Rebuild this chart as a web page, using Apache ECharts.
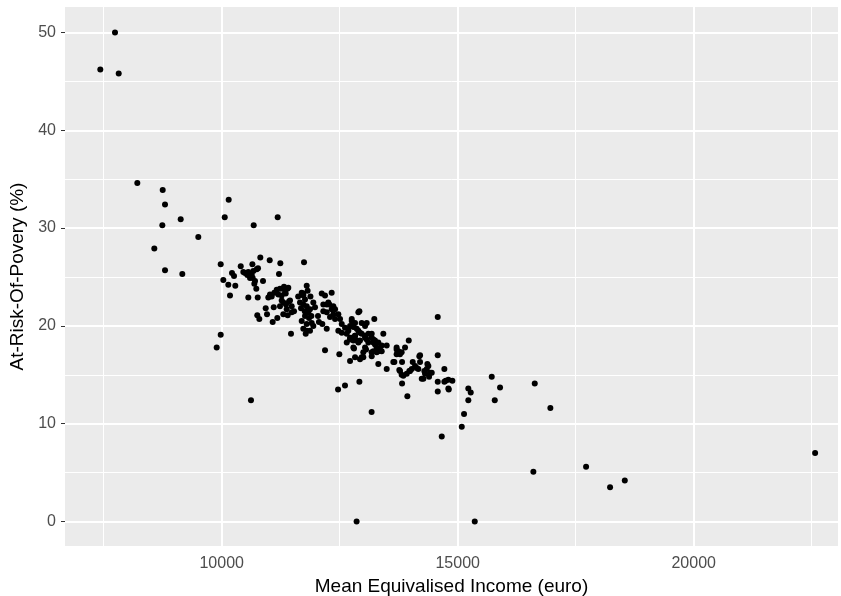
<!DOCTYPE html>
<html>
<head>
<meta charset="utf-8">
<script src="https://cdn.jsdelivr.net/npm/echarts@6/dist/echarts.min.js"></script>
<style>
  html, body { margin: 0; padding: 0; background: #ffffff; }
  #chart { width: 841px; height: 596px; }
</style>
</head>
<body>
<div id="chart"></div>
<script>
// Mean equivalised income (euro) per region
const income = [
  7739, 7428, 7818, 8212, 8750, 10148, 8799, 9131, 10064, 11186,
  8742, 10678, 9504, 8572, 8799, 9165, 9979, 9894, 10620,
  10818, 11017, 11744, 9979, 11242, 10403, 10650, 10769, 10670, 10564,
  10494, 10458, 10543, 10600, 10636, 10218, 10261, 11214, 10034, 10657,
  10706, 10875, 10140, 10288, 10733, 10691, 10176, 10564, 10763, 10742,
  11023, 11059, 11115, 11165, 11235, 11320, 11390, 11356, 11271, 11199,
  10987, 11271, 11305, 11362, 11411, 11341, 11305, 11447, 11483, 11377,
  11235, 11426, 10932, 11102, 10960, 10754, 10797, 11178, 11080, 11398,
  11483, 11532, 11729, 11801, 11468, 11780, 11305,
  11695, 11729, 11765, 11659, 11729, 11801, 11871, 11941, 11977, 11835,
  11765, 11695, 11801, 11907, 11941, 11871, 11801, 11729, 11680, 11760,
  11850, 11900, 11620, 11880, 11820,
  12119, 12330, 12189, 12153, 12225, 12280, 12153, 12225, 12330, 12365,
  12471, 12295, 12401, 12507, 12543, 12613, 12719, 12755, 12825, 12683,
  12471, 12543, 12649, 12719, 12789, 12649, 12825, 12895, 12755, 12132,
  12225, 12189, 12492, 12803, 12259, 12365, 12401, 12040, 12060,
  12917, 13233, 13072, 12755, 12789, 12861, 12895, 12930, 12966, 12825,
  12755, 12719, 12861, 12895, 13037, 13072, 13107, 13213, 13248, 13283,
  13354, 13390, 13318, 13213, 13037, 12789, 13000, 12930, 12825, 13178,
  13283, 13424, 12719, 13318, 13496, 12966, 13037, 13107, 13178, 13248,
  13496, 13037, 13178, 13213, 13390, 13318, 13000, 12966, 12930, 13058,
  13176,
  13963, 13706, 13741, 13812, 13706, 13777, 13884, 13658, 13821, 13763,
  13812, 13821, 13920, 13975, 14026, 14047, 14096, 14132, 14166, 14187,
  14238, 14293, 14357, 14414, 14393, 14577, 14717, 14577, 14577, 14746,
  14802, 14887, 14802, 13933, 13176, 14662, 15225, 15276, 15225, 15134,
  15086, 15721, 15897, 15785, 16632, 16963, 16603, 17720, 18228, 18540,
  22572, 15361, 12858, 14577, 12917, 12465, 12612, 13636, 13706, 13778,
  13848, 13990, 14308, 14344, 14273, 14202, 14378, 14450, 14717, 14202,
  14810
];

// At-risk-of-poverty rate (%) for the same regions
const atRisk = [
  50.0, 46.2, 45.8, 34.6, 33.9, 32.9, 32.4, 30.9, 31.1, 31.1,
  30.3, 30.3, 29.1, 27.9, 25.7, 25.3, 19.1, 17.8, 12.4,
  27.0, 26.7, 26.5, 26.3, 26.4, 26.1, 26.3, 25.9, 25.6, 25.5,
  25.4, 25.5, 25.2, 24.9, 25.2, 25.4, 25.1, 25.3, 24.7, 24.9,
  24.6, 24.6, 24.2, 24.1, 23.8, 24.3, 23.1, 22.9, 22.9, 25.8,
  23.2, 23.0, 23.4, 23.7, 23.8, 24.0, 23.8, 23.3, 23.1, 23.2,
  22.9, 22.6, 22.4, 22.2, 23.9, 23.4, 23.8, 22.6, 22.0, 21.7,
  22.0, 22.5, 21.8, 21.9, 21.2, 21.1, 20.7, 20.8, 20.4, 21.1,
  21.4, 21.5, 23.3, 24.1, 19.2, 19.2, 21.2,
  23.4, 23.1, 22.7, 22.4, 22.2, 22.0, 21.7, 22.4, 21.9, 21.4,
  21.0, 20.5, 20.2, 20.3, 20.0, 19.5, 19.5, 19.7, 21.8, 21.5,
  20.8, 21.0, 23.0, 23.0, 23.6,
  23.3, 23.4, 23.1, 22.2, 22.2, 22.2, 21.5, 21.4, 21.7, 21.2,
  21.2, 20.9, 20.7, 20.7, 20.2, 19.8, 20.0, 20.5, 20.3, 19.5,
  19.5, 19.3, 19.2, 18.8, 18.5, 18.3, 19.0, 21.4, 20.0, 20.2,
  19.7, 17.5, 17.1, 17.7, 22.4, 22.0, 21.7, 21.0, 20.4,
  21.5, 20.7, 20.3, 20.7, 19.9, 19.7, 19.5, 19.3, 19.2, 19.0,
  18.8, 18.6, 18.5, 18.3, 18.8, 18.6, 18.3, 18.6, 18.1, 17.8,
  17.6, 18.0, 18.3, 17.4, 17.8, 17.8, 16.8, 16.6, 16.8, 16.9,
  17.3, 19.2, 16.4, 16.1, 15.6, 20.3, 20.0, 19.2, 18.8, 18.5,
  18.0, 19.0, 19.2, 18.3, 17.4, 17.4, 17.3, 16.8, 18.5, 17.6,
  17.3,
  18.5, 17.8, 17.4, 17.3, 17.1, 17.1, 17.8, 16.3, 16.3, 15.5,
  15.0, 14.1, 15.1, 15.4, 15.6, 16.3, 15.9, 15.7, 15.6, 16.9,
  14.6, 15.4, 16.1, 15.2, 14.8, 17.0, 15.6, 14.3, 13.3, 14.4,
  14.5, 14.4, 13.6, 12.8, 11.2, 8.7, 13.6, 13.2, 12.4, 11.0,
  9.7, 14.8, 13.7, 12.4, 14.1, 11.6, 5.1, 5.6, 3.5, 4.2,
  7.0, 0.0, 0.0, 20.9, 14.3, 13.5, 13.9, 16.3, 17.6, 15.4,
  14.9, 15.4, 15.1, 15.6, 14.6, 17.0, 15.9, 15.2, 14.3, 16.3,
  13.5
];

// Axis breaks and labels
const xMajor = [10000, 15000, 20000];
const xMinor = [7500, 12500, 17500, 22500];
const yMajor = [0, 10, 20, 30, 40, 50];
const yMinor = [5, 15, 25, 35, 45];

const points = income.map((v, i) => [v, atRisk[i]]);

const FONT = '"Liberation Sans", Arial, sans-serif';
const gridMajor = { color: '#FFFFFF', width: 2, type: 'solid' };
const gridMinor = { color: '#FFFFFF', width: 1, type: 'solid' };

const gridLines = []
  .concat(xMinor.map(v => ({ xAxis: v, lineStyle: gridMinor })))
  .concat(yMinor.map(v => ({ yAxis: v, lineStyle: gridMinor })))
  .concat(xMajor.map(v => ({ xAxis: v, lineStyle: gridMajor })))
  .concat(yMajor.map(v => ({ yAxis: v, lineStyle: gridMajor })));

const chart = echarts.init(document.getElementById('chart'), null, { renderer: 'canvas' });

chart.setOption({
  animation: false,
  backgroundColor: '#FFFFFF',
  textStyle: { fontFamily: FONT },
  grid: {
    left: 65, right: 3, top: 7, bottom: 50,
    outerBoundsMode: 'none',
    containLabel: false,
    show: true, backgroundColor: '#EBEBEB', borderWidth: 0
  },
  xAxis: {
    type: 'value',
    min: 6680, max: 23057,
    name: 'Mean Equivalised Income (euro)',
    nameLocation: 'middle',
    nameGap: 31,
    nameTextStyle: { fontSize: 19, color: '#000000', fontFamily: FONT },
    axisLine: { show: false },
    axisTick: { show: true, customValues: xMajor, length: 4, lineStyle: { color: '#333333', width: 1 } },
    axisLabel: {
      customValues: xMajor, fontSize: 16, color: '#4D4D4D', margin: 10, fontFamily: FONT,
      formatter: v => String(v)
    },
    splitLine: { show: false }
  },
  yAxis: {
    type: 'value',
    min: -2.5, max: 52.6,
    name: 'At-Risk-Of-Povery (%)',
    nameLocation: 'middle',
    nameGap: 36,
    nameTextStyle: { fontSize: 19, color: '#000000', fontFamily: FONT },
    axisLine: { show: false },
    axisTick: { show: true, customValues: yMajor, length: 4, lineStyle: { color: '#333333', width: 1 } },
    axisLabel: {
      customValues: yMajor, fontSize: 16, color: '#4D4D4D', margin: 9, fontFamily: FONT,
      formatter: v => String(v)
    },
    splitLine: { show: false }
  },
  series: [
    {
      // panel grid lines, kept beneath the points
      type: 'scatter',
      data: [],
      z: 1,
      silent: true,
      markLine: {
        silent: true,
        z: 1,
        symbol: ['none', 'none'],
        label: { show: false },
        animation: false,
        data: gridLines
      }
    },
    {
      type: 'scatter',
      data: points,
      z: 10,
      symbol: 'circle',
      symbolSize: 6,
      itemStyle: { color: '#000000', opacity: 1 },
      silent: true
    }
  ]
});
</script>
</body>
</html>
